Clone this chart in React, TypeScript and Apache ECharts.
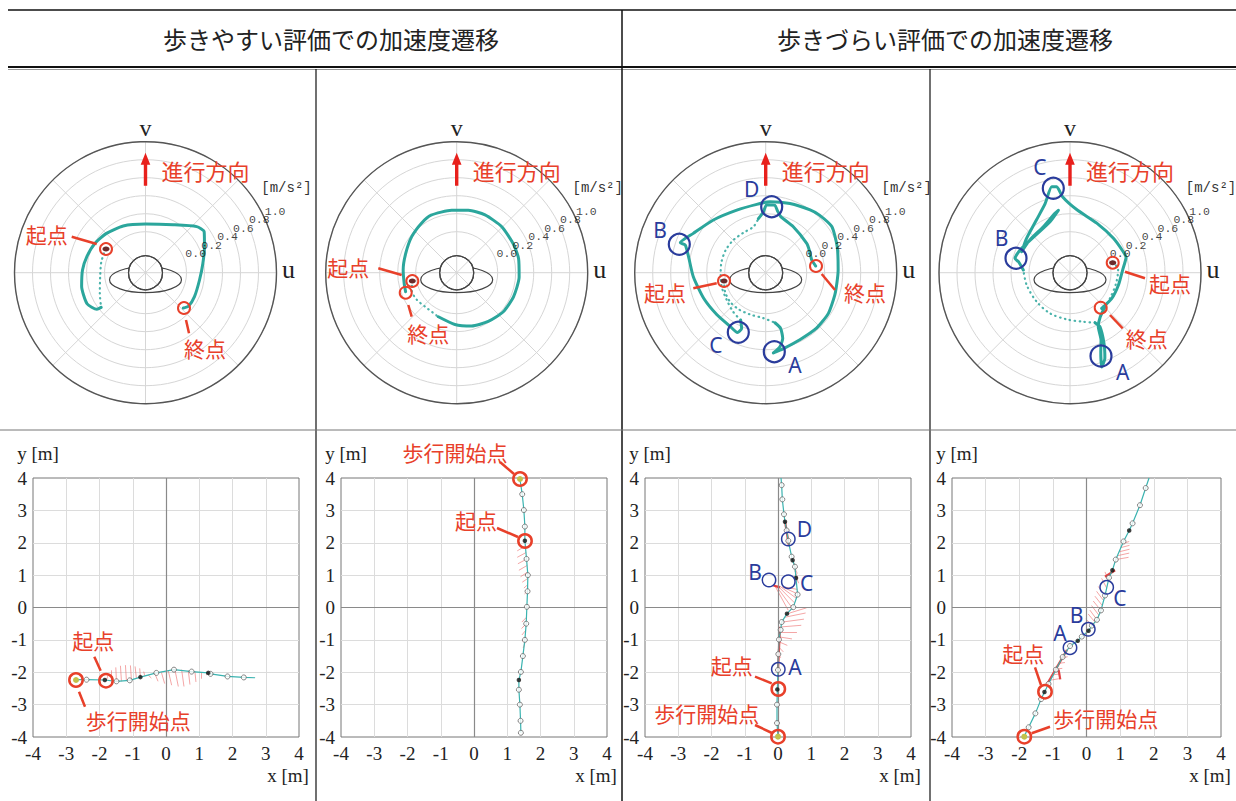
import React, { useEffect, useRef } from 'react';
import * as echarts from 'echarts';

// ================= DATA =================
const HEADER_EASY = '歩きやすい評価での加速度遷移';
const HEADER_HARD = '歩きづらい評価での加速度遷移';
const RING_TICKS = [0, 0.2, 0.4, 0.6, 0.8, 1.0];
const RING_LABELS = ['0.0', '0.2', '0.4', '0.6', '0.8', '1.0'];
const ACC_UNIT = '[m/s²]';
const DIR_LABEL = '進行方向';
const START_LABEL = '起点';
const END_LABEL = '終点';
const WALK_LABEL = '歩行開始点';

// polar trajectories: [acceleration m/s², angle deg (0 = +u, 90 = +v)]
const P1_DOTTED = [[0.06, 149], [0.05, 166], [0.05, 185], [0.10, 204], [0.17, 218]];
const P1_SOLID = [[0.17, 218], [0.22, 217], [0.28, 208], [0.27, 192], [0.245, 177.5], [0.22, 164.7], [0.195, 150], [0.16, 134.8], [0.12, 115.5], [0.085, 90], [0.16, 59.9], [0.31, 42], [0.34, 35], [0.26, 23.7], [0.19, 9.2], [0.15, 352.3], [0.15, 334], [0.15, 322], [0.12, 317]];

const P2_DOTTED = [[0.045, 190.6], [0.08, 201], [0.08, 214], [0.06, 227], [0.075, 247.4]];
const P2_SOLID = [[0.075, 247.4], [0.12, 268], [0.16, 285.7], [0.19, 302.9], [0.22, 320], [0.23, 337], [0.24, 356], [0.25, 13], [0.25, 27.4], [0.26, 45.6], [0.26, 63.9], [0.25, 79.4], [0.24, 94.6], [0.245, 114], [0.22, 125.4], [0.185, 141.3], [0.15, 159.3], [0.14, 177], [0.14, 191.6], [0.15, 200.4]];

const P3_DOTTED_A = [[0.016, 190.9], [0.043, 205], [0.055, 219], [0.05, 233.4], [0.04, 249.4], [0.05, 267], [0.11, 280.5]];
const P3_SOLID_A = [[0.11, 280.5], [0.185, 285], [0.30, 284.5], [0.38, 281], [0.44, 275.5], [0.41, 283.2], [0.38, 297], [0.38, 312.5], [0.375, 327], [0.35, 343.4], [0.35, 2.1], [0.39, 20], [0.44, 34.9], [0.42, 47], [0.40, 54.8], [0.36, 70.7], [0.335, 86.5], [0.31, 97.5], [0.31, 114.8], [0.37, 134.8], [0.46, 151.5], [0.55, 160.7], [0.49, 161], [0.42, 168.3], [0.35, 183.2], [0.29, 202.4], [0.26, 220.8], [0.26, 236.5], [0.28, 244.7], [0.22, 246.7], [0.14, 242.1]];
const P3_DOTTED_B = [[0.14, 242.1], [0.11, 230.4], [0.073, 215], [0.058, 197.7], [0.045, 181], [0.05, 166], [0.055, 150.4], [0.055, 134.7], [0.053, 119], [0.073, 105], [0.15, 97.7]];
const P3_SOLID_B = [[0.15, 97.7], [0.22, 92.2], [0.30, 89.2], [0.30, 82.2], [0.245, 79.3], [0.19, 75], [0.14, 59], [0.105, 35.6], [0.09, 27.4], [0.075, 15.4], [0.105, 7.6]];

const P4_DOTTED_A = [[0.034, 14.5], [0.08, 3.2], [0.07, 346.9], [0.07, 329.5], [0.087, 315.8]];
const P4_SOLID_A = [[0.087, 315.8], [0.14, 304.3], [0.22, 297.7], [0.37, 294.7], [0.49, 291.2], [0.65, 288.6], [0.57, 292.2], [0.415, 295.7], [0.23, 299], [0.165, 296.6]];
const P4_DOTTED_B = [[0.165, 296.6], [0.11, 285.2], [0.064, 265.9], [0.048, 243.8], [0.035, 221], [0.045, 195.9], [0.064, 176.7]];
const P4_SOLID_B = [[0.064, 176.7], [0.13, 168], [0.176, 165.4], [0.154, 155.6], [0.11, 130.7], [0.153, 111.4], [0.25, 100.6], [0.225, 104.2], [0.135, 120.1], [0.12, 140.7], [0.13, 156.5], [0.16, 141.6], [0.24, 122.3], [0.36, 109.8], [0.52, 102], [0.51, 98.8], [0.39, 95.5], [0.25, 84], [0.17, 61.6], [0.16, 38.4], [0.18, 21.5], [0.19, 15.3], [0.13, 2.9], [0.1, 345.7], [0.09, 328.4], [0.075, 311.6]];

// walking paths [x m, y m]
const X1_PATH = [[-2.72, -2.23], [-2.39, -2.23], [-1.84, -2.24], [-1.49, -2.28], [-1.09, -2.25], [-0.77, -2.15], [-0.29, -2.02], [0.24, -1.92], [0.77, -1.98], [1.27, -2.02], [1.34, -2.05], [1.85, -2.13], [2.34, -2.16], [2.68, -2.17]];
const X1_HOLLOW = [[-2.39, -2.23], [-1.49, -2.28], [-1.09, -2.25], [-0.29, -2.02], [0.24, -1.92], [0.77, -1.98], [1.34, -2.05], [1.85, -2.13], [2.34, -2.16]];
const X1_BLACK = [[-1.84, -2.24], [-0.77, -2.15], [1.27, -2.02]];
const X1_FAN1_BASE = [[-1.79, -2.25], [-1.64, -2.26], [-1.49, -2.28], [-1.34, -2.28], [-1.19, -2.27], [-1.04, -2.23], [-0.89, -2.19], [-0.77, -2.15], [-0.64, -2.11]];
const X1_FAN1_TIP = [[-1.74, -2.08], [-1.64, -1.94], [-1.51, -1.85], [-1.37, -1.80], [-1.22, -1.78], [-1.07, -1.79], [-0.93, -1.82], [-0.79, -1.88], [-0.67, -1.98]];
const X1_FAN2_BASE = [[-0.54, -2.08], [-0.34, -2.03], [-0.14, -2.0], [0.07, -1.96], [0.27, -1.93], [0.47, -1.92], [0.67, -1.94], [0.87, -1.97], [1.07, -2.0], [1.24, -2.02]];
const X1_FAN2_TIP = [[-0.44, -2.18], [-0.24, -2.28], [-0.04, -2.35], [0.17, -2.4], [0.37, -2.44], [0.54, -2.44], [0.72, -2.38], [0.9, -2.3], [1.07, -2.2], [1.22, -2.09]];

const X2_PATH = [[1.38, 3.97], [1.45, 3.5], [1.5, 3.01], [1.53, 2.5], [1.53, 2.06], [1.58, 1.5], [1.62, 1.0], [1.61, 0.5], [1.59, 0.02], [1.57, -0.5], [1.53, -1.0], [1.47, -1.5], [1.41, -1.99], [1.35, -2.24], [1.35, -2.54], [1.38, -3.0], [1.4, -3.5], [1.41, -3.87]];
const X2_HOLLOW = [[1.45, 3.5], [1.5, 3.01], [1.53, 2.5], [1.58, 1.5], [1.62, 1.0], [1.61, 0.5], [1.59, 0.02], [1.57, -0.5], [1.53, -1.0], [1.47, -1.5], [1.41, -1.99], [1.35, -2.54], [1.38, -3.0], [1.4, -3.5], [1.41, -3.87]];
const X2_BLACK = [[1.53, 2.06], [1.35, -2.24]];
const X2_FAN_BASE = [[1.55, 1.9], [1.57, 1.7], [1.59, 1.5], [1.6, 1.3], [1.62, 1.1], [1.62, 0.9], [1.61, 0.7], [1.6, 0.5], [1.58, -0.3], [1.57, -0.5], [1.56, -0.7], [1.55, -0.9], [1.53, -1.1]];
const X2_FAN_TIP = [[1.3, 1.75], [1.3, 1.55], [1.32, 1.35], [1.35, 1.15], [1.4, 0.95], [1.45, 0.78], [1.5, 0.6], [1.52, 0.42], [1.44, -0.45], [1.43, -0.65], [1.44, -0.85], [1.46, -1.05], [1.48, -1.25]];

const X3_PATH = [[0, -3.98], [-0.03, -3.57], [-0.03, -3.0], [-0.02, -2.53], [0, -1.93], [0.01, -1.44], [0.03, -0.99], [0.08, -0.69], [0.11, -0.45], [0.27, -0.19], [0.46, 0.01], [0.59, 0.4], [0.54, 0.91], [0.51, 1.26], [0.44, 1.46], [0.41, 1.57], [0.31, 2.06], [0.26, 2.38], [0.21, 2.65], [0.18, 2.88], [0.13, 3.34], [0.11, 3.78], [0.09, 4.0]];
const X3_HOLLOW = [[-0.03, -3.57], [-0.03, -3.0], [0, -1.93], [0.01, -1.44], [0.03, -0.99], [0.08, -0.69], [0.11, -0.45], [0.46, 0.01], [0.59, 0.4], [0.51, 1.26], [0.41, 1.57], [0.31, 2.06], [0.26, 2.38], [0.18, 2.88], [0.13, 3.34], [0.11, 3.78]];
const X3_BLACK = [[-0.02, -2.53], [0.27, -0.19], [0.54, 0.91], [0.44, 1.46], [0.21, 2.65]];
const X3_FAN_BASE = [[0.29, -0.19], [0.21, -0.3], [0.13, -0.45], [0.09, -0.6], [0.06, -0.76], [0.04, -0.91], [0.03, -1.06], [0.02, -1.22], [0.01, -1.4], [0.31, -0.09], [0.41, 0.01], [0.5, 0.14], [0.56, 0.28], [0.59, 0.42], [0.58, 0.56], [0.44, 1.46], [0.47, 1.3], [0.5, 1.15], [0.53, 1.0]];
const X3_FAN_TIP = [[0.86, -0.01], [0.83, -0.17], [0.78, -0.36], [0.7, -0.55], [0.57, -0.76], [0.42, -0.97], [0.28, -1.17], [0.16, -1.37], [0.08, -1.55], [-0.12, 0.72], [-0.08, 0.7], [-0.02, 0.68], [0.05, 0.66], [0.12, 0.64], [0.2, 0.63], [0.55, 1.2], [0.58, 1.05], [0.6, 0.9], [0.62, 0.75]];
const X3_RED = [[[0, -1.93], [0.06, -0.6]], [[-0.14, 0.68], [0.06, 0.62]], [[0.21, 2.67], [0.33, 1.9]]];

const X4_PATH = [[-1.84, -3.95], [-1.72, -3.7], [-1.52, -3.27], [-1.35, -2.83], [-1.25, -2.61], [-1.13, -2.36], [-0.91, -1.92], [-0.71, -1.53], [-0.49, -1.19], [-0.26, -1.03], [-0.14, -0.9], [0.06, -0.72], [0.16, -0.56], [0.31, -0.38], [0.43, -0.09], [0.55, 0.37], [0.67, 0.92], [0.77, 1.15], [0.87, 1.48], [1.1, 2.04], [1.27, 2.38], [1.37, 2.6], [1.59, 3.16], [1.76, 3.69], [1.86, 4.0]];
const X4_HOLLOW = [[-1.72, -3.7], [-1.52, -3.27], [-1.35, -2.83], [-1.13, -2.36], [-0.91, -1.92], [-0.71, -1.53], [-0.49, -1.19], [-0.14, -0.9], [0.16, -0.56], [0.31, -0.38], [0.43, -0.09], [0.55, 0.37], [0.67, 0.92], [0.87, 1.48], [1.1, 2.04], [1.37, 2.6], [1.59, 3.16], [1.76, 3.69]];
const X4_BLACK = [[-1.25, -2.61], [-0.26, -1.03], [0.06, -0.72], [0.77, 1.15], [1.27, 2.38]];
const X4_FAN_BASE = [[-1.1, -2.25], [-1.0, -2.08], [-0.9, -1.9], [-0.8, -1.72], [-0.7, -1.55], [0.16, -0.56], [0.25, -0.45], [0.31, -0.38], [0.37, -0.24], [0.43, -0.09], [0.47, 0.06], [0.51, 0.21], [0.55, 0.37], [0.6, 0.6], [0.65, 0.85], [0.87, 1.48], [0.92, 1.6], [0.97, 1.72], [1.02, 1.85], [1.07, 1.97]];
const X4_FAN_TIP = [[-0.82, -2.2], [-0.78, -2.05], [-0.72, -1.88], [-0.64, -1.7], [-0.56, -1.52], [-0.02, -0.35], [0.05, -0.2], [0.1, -0.08], [0.15, 0.06], [0.2, 0.2], [0.25, 0.35], [0.3, 0.5], [0.35, 0.65], [0.45, 0.9], [0.55, 1.1], [1.25, 1.55], [1.27, 1.68], [1.28, 1.8], [1.28, 1.92], [1.27, 2.04]];
const X4_RED = [[[-1.18, -2.38], [-0.58, -1.31]], [[-0.83, -1.92], [-0.78, -2.22]], [[0.55, 0.95], [0.85, 1.15]]];

// ================= LAYOUT / STYLE =================
const TEAL = '#2ba69c';
const RED = '#e8402a';
const BLUE = '#2a3c9c';
const GRID_GRAY = '#d6d6d6';
const R_OUT = 131;
const R_IN = 41;
const P_CENTERS = [[145.5, 272.7], [456.7, 272.7], [765.7, 272.7], [1070, 272.7]];
const POLAR_SETS = [
  { dotted: [P1_DOTTED], solid: [P1_SOLID] },
  { dotted: [P2_DOTTED], solid: [P2_SOLID] },
  { dotted: [P3_DOTTED_A, P3_DOTTED_B], solid: [P3_SOLID_A, P3_SOLID_B] },
  { dotted: [P4_DOTTED_A, P4_DOTTED_B], solid: [P4_SOLID_A, P4_SOLID_B] },
];
const POLAR_NOTES = [
  { start: [106, 249], sLead: [71.7, 236.7, 96.7, 244], sText: [46.7, 234], end: [184, 308], eLead: [186, 320, 189, 333.3], eText: [205, 348.3], blue: [] as any[] },
  { start: [412.3, 281], sLead: [378.3, 268.3, 401.7, 275], sText: [348.3, 266.7], end: [405.7, 292.7], eLead: [408.3, 305, 411.7, 316.7], eText: [428.3, 333.3], blue: [] as any[] },
  { start: [724, 281], sLead: [693.3, 288.3, 716.7, 283.3], sText: [665, 291.7], end: [816, 266], eLead: [821.7, 274, 835, 290], eText: [865, 291.7],
    blue: [['A', 774.3, 351.7, 795, 365], ['B', 679.3, 244.3, 660, 230], ['C', 738.3, 332.3, 716, 345], ['D', 771.7, 206.7, 751.7, 189.3]] },
  { start: [1112.7, 262.7], sLead: [1125, 271.7, 1145, 278.3], sText: [1170, 283.3], end: [1100.7, 307.7], eLead: [1110, 315, 1122.7, 328.3], eText: [1146.7, 338.3],
    blue: [['A', 1101, 356, 1122.7, 371.7], ['B', 1016, 258.3, 1001.7, 238.3], ['C', 1053.3, 188.3, 1040, 167.3]] },
];

const XY_GRIDS = [[33, 266], [341, 266], [645, 266], [952, 269]];
const XY_TOP = 478;
const XY_H = 259;
const XY_SETS = [
  { path: X1_PATH, hollow: X1_HOLLOW, black: X1_BLACK, fanB: [...X1_FAN1_BASE, ...X1_FAN2_BASE], fanT: [...X1_FAN1_TIP, ...X1_FAN2_TIP], red: [] as any[] },
  { path: X2_PATH, hollow: X2_HOLLOW, black: X2_BLACK, fanB: X2_FAN_BASE, fanT: X2_FAN_TIP, red: [] as any[] },
  { path: X3_PATH, hollow: X3_HOLLOW, black: X3_BLACK, fanB: X3_FAN_BASE, fanT: X3_FAN_TIP, red: X3_RED },
  { path: X4_PATH, hollow: X4_HOLLOW, black: X4_BLACK, fanB: X4_FAN_BASE, fanT: X4_FAN_TIP, red: X4_RED },
];
const XY_NOTES = [
  { start: [106, 680.7], sLead: [94.3, 656.7, 100.7, 670.7], sText: [93.3, 640], walk: [76, 680], wLead: [79, 691.7, 85, 706.7], wText: [138.3, 720], blue: [] as any[] },
  { start: [525, 541], sLead: [497, 528, 518, 537], sText: [476, 520], walk: [520, 479], wLead: [500, 462, 514, 474], wText: [455, 452], blue: [] as any[] },
  { start: [778.3, 689], sLead: [755, 676.7, 771.7, 683.3], sText: [731.7, 665], walk: [778, 736.7], wLead: [755, 725, 772, 733], wText: [706.7, 713.3],
    blue: [['A', 778.3, 669.3, 795, 666.7], ['B', 769, 580, 755, 571.7], ['C', 788.3, 581.7, 806.7, 583.3], ['D', 788.3, 539, 804.3, 529.3]] },
  { start: [1045, 691.7], sLead: [1035, 667.3, 1041, 685], sText: [1023.3, 653.3], walk: [1024.3, 736.7], wLead: [1050, 726.7, 1031.7, 733.3], wText: [1105.8, 718.3],
    blue: [['A', 1070, 647.7, 1060, 633.3], ['B', 1088.3, 629.3, 1076.7, 615], ['C', 1106.7, 587.3, 1120, 598.3]] },
];

const CJK = '"Noto Sans CJK JP", "Noto Sans", sans-serif';
const SERIF = '"Liberation Serif", "DejaVu Serif", serif';
const MONO = '"Liberation Mono", "DejaVu Sans Mono", monospace';

function txt(text: string, x: number, y: number, size: number, color: string, family: string, align = 'center') {
  return {
    type: 'text', x, y, z: 120,
    style: { text, fontSize: size, fontFamily: family, fill: color, align, textAlign: align, verticalAlign: 'middle', textVerticalAlign: 'middle' },
  };
}
function seg(x1: number, y1: number, x2: number, y2: number, stroke: string, lineWidth: number, z = 110) {
  return { type: 'line', z, shape: { x1, y1, x2, y2 }, style: { stroke, lineWidth } };
}
function ring(cx: number, cy: number, r: number, stroke: string, lineWidth: number, fill = 'none', z = 115) {
  return { type: 'circle', z, shape: { cx, cy, r }, style: { stroke, lineWidth, fill } };
}

function buildOption() {
  const polar: any[] = [];
  const angleAxis: any[] = [];
  const radiusAxis: any[] = [];
  const grid: any[] = [];
  const xAxis: any[] = [];
  const yAxis: any[] = [];
  const series: any[] = [];
  const graphic: any[] = [];

  // ----- table lines and headers -----
  graphic.push(seg(8, 10, 1236, 10, '#111', 1.5, 1));
  graphic.push(seg(8, 67, 1236, 67, '#111', 2, 1));
  graphic.push(seg(8, 69.5, 1236, 69.5, '#999', 1, 1));
  graphic.push(seg(622, 10, 622, 801, '#111', 1.5, 1));
  graphic.push(seg(316, 69, 316, 801, '#111', 1.2, 1));
  graphic.push(seg(930, 69, 930, 801, '#111', 1.2, 1));
  graphic.push(seg(0, 430, 1236, 430, '#777', 1, 1));
  graphic.push(txt(HEADER_EASY, 331, 38, 24, '#222', CJK));
  graphic.push(txt(HEADER_HARD, 945, 38, 24, '#222', CJK));

  // ----- polar charts -----
  P_CENTERS.forEach(([cx, cy], i) => {
    polar.push({ center: [cx, cy], radius: [0, R_OUT] });
    polar.push({ center: [cx, cy], radius: [R_IN, R_OUT] });
    angleAxis.push({
      polarIndex: 2 * i, type: 'value', min: 0, max: 360, interval: 45, startAngle: 0, clockwise: false, z: 3,
      axisLine: { show: true, lineStyle: { color: '#555', width: 1.4 } },
      axisTick: { show: false }, axisLabel: { show: false },
      splitLine: { show: true, lineStyle: { color: GRID_GRAY, width: 1 } },
    });
    angleAxis.push({
      polarIndex: 2 * i + 1, type: 'value', min: 0, max: 360, startAngle: 0, clockwise: false,
      axisLine: { show: false }, axisTick: { show: false }, axisLabel: { show: false }, splitLine: { show: false },
    });
    radiusAxis.push({
      polarIndex: 2 * i, type: 'value', min: 0, max: 1,
      axisLine: { show: false }, axisTick: { show: false }, axisLabel: { show: false }, splitLine: { show: false },
    });
    radiusAxis.push({
      polarIndex: 2 * i + 1, type: 'value', min: 0, max: 1, interval: 0.2,
      axisLine: { show: false }, axisTick: { show: false }, axisLabel: { show: false },
      splitLine: { show: true, lineStyle: { color: GRID_GRAY, width: 1 } },
    });
    const set = POLAR_SETS[i];
    set.dotted.forEach((d) => series.push({
      type: 'line', coordinateSystem: 'polar', polarIndex: 2 * i + 1, data: d, showSymbol: false, silent: true, z: 3, smooth: 0.3,
      lineStyle: { color: TEAL, width: 2.2, type: [0.5, 4.5], cap: 'round', opacity: 0.85 },
    }));
    set.solid.forEach((d) => series.push({
      type: 'line', coordinateSystem: 'polar', polarIndex: 2 * i + 1, data: d, showSymbol: false, silent: true, z: 4, smooth: 0.2,
      lineStyle: { color: TEAL, width: 3, cap: 'round', join: 'round' },
    }));
    series.push({
      type: 'scatter', coordinateSystem: 'polar', polarIndex: 2 * i + 1, symbolSize: 1, silent: true, z: 6,
      itemStyle: { color: 'rgba(0,0,0,0)' },
      data: RING_TICKS.map((t, k) => ({ value: [t, 28], name: RING_LABELS[k] })),
      label: { show: true, formatter: '{b}', position: 'inside', offset: [14, 0], fontFamily: MONO, fontSize: 11.5, color: '#111' },
    });

    // body (shoulders + head)
    graphic.push({ type: 'ellipse', z: 50, shape: { cx, cy: cy + 7, rx: 36, ry: 13 }, style: { stroke: '#444', lineWidth: 1.2, fill: 'none' } });
    graphic.push(ring(cx, cy, 17, '#444', 1.2, '#fff', 51));
    [0, 45, 90, 135].forEach((a) => {
      const rad = (a * Math.PI) / 180;
      graphic.push(seg(cx - 17 * Math.cos(rad), cy - 17 * Math.sin(rad), cx + 17 * Math.cos(rad), cy + 17 * Math.sin(rad), GRID_GRAY, 1, 52));
    });
    graphic.push(ring(cx, cy, 17, '#444', 1.2, 'none', 53));

    // axis labels, arrow and unit
    graphic.push(txt('v', cx, cy - 145, 24, '#222', SERIF));
    graphic.push(txt('u', cx + 143, cy - 3, 26, '#222', SERIF));
    graphic.push(txt(ACC_UNIT, cx + 141, cy - 84.5, 14, '#333', MONO));
    graphic.push({
      type: 'polygon', z: 100,
      shape: { points: [[cx - 1.7, cy - 87], [cx + 1.7, cy - 87], [cx + 1.7, cy - 108], [cx + 4.8, cy - 108], [cx, cy - 120], [cx - 4.8, cy - 108], [cx - 1.7, cy - 108]] },
      style: { fill: '#e8201c' },
    });
    graphic.push(txt(DIR_LABEL, cx + 16, cy - 102.7, 22, RED, CJK, 'left'));

    // annotations
    const n = POLAR_NOTES[i];
    graphic.push({ type: 'ellipse', z: 114, shape: { cx: n.start[0], cy: n.start[1], rx: 3.5, ry: 2.5 }, style: { fill: '#6b2b2b' } });
    graphic.push(ring(n.start[0], n.start[1], 6, RED, 2));
    graphic.push(seg(n.sLead[0], n.sLead[1], n.sLead[2], n.sLead[3], RED, 2.5));
    graphic.push(txt(START_LABEL, n.sText[0], n.sText[1], 21, RED, CJK));
    graphic.push(ring(n.end[0], n.end[1], 6, RED, 2));
    graphic.push(seg(n.eLead[0], n.eLead[1], n.eLead[2], n.eLead[3], RED, 2.5));
    graphic.push(txt(END_LABEL, n.eText[0], n.eText[1], 21, RED, CJK));
    n.blue.forEach((b: any) => {
      graphic.push(ring(b[1], b[2], 10.5, BLUE, 2.2));
      graphic.push(txt(b[0], b[3], b[4], 21, BLUE, '"Noto Sans", sans-serif'));
    });
  });

  // ----- xy charts -----
  XY_GRIDS.forEach(([left, width], i) => {
    grid.push({ left, top: XY_TOP, width, height: XY_H, show: true, borderColor: '#777', borderWidth: 1, backgroundColor: 'rgba(0,0,0,0)' });
    const axisCommon = {
      type: 'value', min: -4, max: 4, interval: 1, gridIndex: i,
      axisLine: { show: false }, axisTick: { show: false },
      splitLine: { show: true, showMinLine: false, showMaxLine: false, lineStyle: { color: '#dcdcdc', width: 1 } },
      axisLabel: { fontFamily: SERIF, fontSize: 19, color: '#222', margin: 7 },
    };
    xAxis.push({ ...axisCommon });
    yAxis.push({ ...axisCommon, axisLabel: { ...axisCommon.axisLabel, margin: 6 } });
    const s = XY_SETS[i];
    series.push({
      type: 'lines', coordinateSystem: 'cartesian2d', xAxisIndex: i, yAxisIndex: i, silent: true, z: 2,
      data: s.fanB.map((b: number[], k: number) => ({ coords: [b, s.fanT[k]] })),
      lineStyle: { color: '#ec6a6a', width: 1, opacity: 0.6 },
    });
    if (s.red.length) {
      series.push({
        type: 'lines', coordinateSystem: 'cartesian2d', xAxisIndex: i, yAxisIndex: i, silent: true, z: 3,
        data: s.red.map((c: any) => ({ coords: c })),
        lineStyle: { color: '#e03030', width: 2.2, opacity: 0.9 },
      });
    }
    series.push({
      type: 'line', xAxisIndex: i, yAxisIndex: i, data: s.path, showSymbol: false, silent: true, z: 4,
      lineStyle: { color: '#3ab3b0', width: 1.2 },
      markLine: {
        silent: true, symbol: ['none', 'none'], label: { show: false }, animation: false,
        lineStyle: { color: '#8a8a8a', type: 'solid', width: 1.2 },
        data: [{ xAxis: 0 }, { yAxis: 0 }],
      },
    });
    series.push({
      type: 'scatter', xAxisIndex: i, yAxisIndex: i, data: s.hollow, symbolSize: 5, silent: true, z: 5,
      itemStyle: { color: '#fff', borderColor: '#666', borderWidth: 1 },
    });
    series.push({
      type: 'scatter', xAxisIndex: i, yAxisIndex: i, data: s.black, symbolSize: 4.5, silent: true, z: 6,
      itemStyle: { color: '#111' },
    });

    // axis names
    graphic.push(txt('y [m]', left + 5, 453, 19, '#222', SERIF));
    graphic.push(txt('x [m]', left + width - 11, 775, 19, '#222', SERIF));

    // annotations
    const n = XY_NOTES[i];
    graphic.push(ring(n.walk[0], n.walk[1], 3, 'none', 0, '#c2c24a', 113));
    graphic.push(ring(n.walk[0], n.walk[1], 6.7, RED, 2.5));
    graphic.push(seg(n.wLead[0], n.wLead[1], n.wLead[2], n.wLead[3], RED, 2.5));
    graphic.push(txt(WALK_LABEL, n.wText[0], n.wText[1], 21, RED, CJK));
    graphic.push(ring(n.start[0], n.start[1], 6.7, RED, 2.5));
    graphic.push(seg(n.sLead[0], n.sLead[1], n.sLead[2], n.sLead[3], RED, 2.5));
    graphic.push(txt(START_LABEL, n.sText[0], n.sText[1], 21, RED, CJK));
    n.blue.forEach((b: any) => {
      graphic.push(ring(b[1], b[2], 6.7, BLUE, 1.5));
      graphic.push(txt(b[0], b[3], b[4], 21, BLUE, '"Noto Sans", sans-serif'));
    });
  });

  return {
    animation: false,
    backgroundColor: '#fff',
    polar, angleAxis, radiusAxis, grid, xAxis, yAxis, series, graphic,
  };
}

export default function App() {
  const ref = useRef<HTMLDivElement>(null);
  useEffect(() => {
    const chart = echarts.init(ref.current!, null, { renderer: 'svg' });
    chart.setOption(buildOption() as any);
    return () => chart.dispose();
  }, []);
  return <div ref={ref} style={{ position: 'absolute', left: 0, top: 0, width: 1236, height: 801 }} />;
}
